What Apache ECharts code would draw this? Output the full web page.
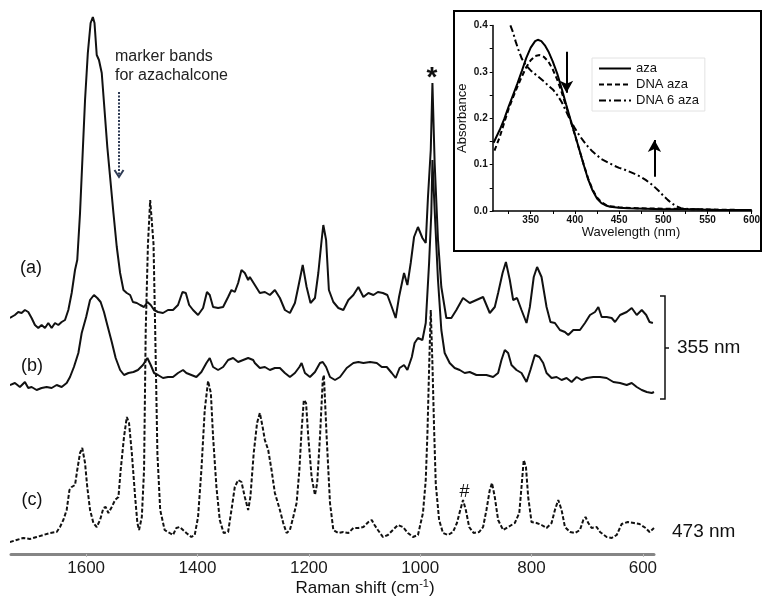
<!DOCTYPE html>
<html>
<head>
<meta charset="utf-8">
<script src="https://cdn.jsdelivr.net/npm/echarts@6/dist/echarts.min.js"></script>
<style>
  html, body { margin: 0; padding: 0; background: #fff; }
  #chart { width: 762px; height: 597px; }
</style>
</head>
<body>
<div id="chart"></div>
<script>
// Raman spectra: [Raman shift (cm-1), intensity (offset, arb. units)]
const traceA = [
  [1737,236],[1728,239],[1722,242],[1716,241],[1710,244],[1704,242],[1698,236],[1692,229],[1686,226],[1680,229],
  [1674,226],[1668,231],[1662,226],[1656,231],[1650,229],[1644,232],[1638,234],[1632,244],[1626,261],[1620,284],
  [1616,294],[1611,341],[1606,404],[1602,454],[1597,501],[1592,531],[1588,537],[1585,531],[1581,499],[1577,494],
  [1572,481],[1567,444],[1562,407],[1557,377],[1551,341],[1545,307],[1539,281],[1533,264],[1527,261],[1521,259],
  [1516,252],[1509,251],[1503,249],[1496,247],[1490,252],[1484,249],[1478,244],[1471,242],[1462,241],[1453,244],
  [1444,244],[1435,249],[1427,262],[1421,261],[1415,249],[1408,244],[1399,239],[1390,246],[1383,262],[1378,259],
  [1372,247],[1363,246],[1354,247],[1345,257],[1339,264],[1333,262],[1327,271],[1321,284],[1315,281],[1309,274],
  [1306,277],[1297,269],[1288,261],[1279,262],[1270,259],[1261,264],[1252,256],[1243,244],[1234,241],[1225,251],
  [1219,267],[1211,289],[1204,267],[1197,251],[1189,256],[1183,281],[1177,314],[1174,329],[1169,314],[1164,264],
  [1156,252],[1147,246],[1138,244],[1129,254],[1120,259],[1111,267],[1102,257],[1093,261],[1084,259],[1076,262],
  [1067,261],[1059,259],[1051,247],[1044,236],[1038,257],[1029,281],[1023,269],[1017,291],[1011,317],[1004,327],
  [996,316],[990,311],[986,357],[981,404],[978,471],[974,391],[968,314],[962,267],[953,236],[944,236],
  [935,244],[923,256],[911,251],[899,254],[887,257],[875,241],[866,247],[860,261],[852,281],[846,292],
  [839,274],[833,254],[826,256],[818,244],[809,231],[803,247],[796,277],[790,287],[782,277],[773,247],
  [766,232],[758,231],[749,224],[740,222],[734,219],[725,224],[713,224],[704,231],[695,239],[686,242],
  [680,247],[674,237],[665,237],[656,236],[650,232],[641,239],[629,242],[620,246],[611,239],[602,244],
  [594,239],[588,232],[582,231]
];
const traceB = [
  [1737,169],[1728,171],[1719,167],[1710,172],[1704,166],[1698,167],[1689,164],[1680,166],[1671,167],[1662,166],
  [1653,169],[1644,167],[1635,171],[1629,177],[1622,187],[1614,201],[1608,221],[1600,237],[1593,254],[1586,259],
  [1580,256],[1574,252],[1568,242],[1562,229],[1554,212],[1547,196],[1539,184],[1532,179],[1524,181],[1515,182],
  [1507,184],[1498,189],[1490,196],[1484,189],[1478,181],[1471,179],[1462,176],[1453,177],[1444,177],[1435,181],
  [1426,184],[1420,181],[1411,179],[1402,177],[1393,182],[1384,191],[1378,196],[1372,187],[1363,184],[1354,187],
  [1345,194],[1336,196],[1327,192],[1318,194],[1309,196],[1300,194],[1297,191],[1288,186],[1279,187],[1270,184],
  [1261,186],[1252,186],[1243,181],[1234,177],[1225,181],[1217,187],[1213,191],[1207,181],[1198,177],[1189,182],
  [1180,191],[1175,192],[1169,187],[1162,177],[1153,174],[1144,177],[1132,186],[1120,191],[1111,192],[1102,191],
  [1090,192],[1078,191],[1069,187],[1060,187],[1051,181],[1044,176],[1037,186],[1029,189],[1023,184],[1015,197],
  [1010,211],[1004,216],[996,214],[990,231],[984,291],[980,341],[978,394],[974,344],[968,274],[962,224],
  [956,201],[947,191],[938,186],[929,184],[920,181],[911,182],[899,179],[887,179],[881,179],[869,177],
  [860,181],[854,194],[848,204],[842,201],[836,189],[827,184],[818,181],[809,172],[802,184],[794,199],
  [786,197],[779,191],[773,181],[764,176],[755,177],[746,174],[737,176],[728,172],[719,177],[710,174],
  [701,176],[689,177],[677,177],[665,176],[653,172],[641,171],[629,169],[620,171],[611,167],[602,164],
  [593,162],[584,161],[580,162]
];
const traceC = [
  [1737,12],[1725,14],[1713,16],[1701,15],[1689,17],[1677,19],[1665,21],[1653,22],[1647,27],[1641,34],
  [1635,44],[1630,64],[1626,67],[1620,69],[1616,84],[1611,101],[1607,106],[1602,91],[1598,67],[1593,44],
  [1587,31],[1581,27],[1575,34],[1569,46],[1565,47],[1560,41],[1554,47],[1548,54],[1542,57],[1538,84],
  [1532,117],[1527,137],[1523,131],[1518,101],[1512,57],[1508,31],[1505,24],[1500,37],[1496,84],[1493,224],
  [1489,310],[1485,354],[1482,356],[1479,310],[1476,224],[1472,100],[1467,44],[1459,24],[1450,21],[1444,19],
  [1438,26],[1432,27],[1426,24],[1420,21],[1411,17],[1405,19],[1399,37],[1393,84],[1387,144],[1381,173],
  [1376,161],[1372,117],[1366,67],[1360,34],[1353,21],[1345,22],[1339,44],[1333,67],[1327,74],[1321,72],
  [1315,57],[1309,44],[1305,57],[1299,101],[1293,131],[1288,141],[1283,127],[1279,114],[1273,104],[1267,84],
  [1261,61],[1252,44],[1246,31],[1240,21],[1234,24],[1228,37],[1222,51],[1217,84],[1213,124],[1209,154],
  [1205,151],[1201,117],[1195,77],[1189,59],[1185,71],[1180,117],[1175,174],[1173,179],[1168,117],[1162,51],
  [1156,24],[1147,21],[1138,22],[1129,21],[1120,26],[1111,26],[1102,27],[1093,32],[1087,34],[1082,29],
  [1076,24],[1067,17],[1058,19],[1049,24],[1040,29],[1031,27],[1022,21],[1013,17],[1004,19],[995,41],
  [990,74],[987,120],[984,185],[981,244],[978,190],[975,125],[972,70],[966,34],[959,21],[950,19],
  [941,22],[934,31],[928,44],[923,54],[918,44],[912,27],[904,21],[894,22],[887,27],[881,44],
  [875,64],[871,71],[866,57],[860,34],[851,24],[842,27],[830,31],[822,41],[818,67],[814,94],
  [810,87],[806,57],[800,32],[791,31],[782,29],[773,26],[764,31],[758,44],[752,54],[746,44],
  [740,27],[731,22],[722,21],[713,24],[707,34],[703,37],[698,31],[692,26],[683,27],[677,22],
  [665,17],[656,16],[647,19],[638,30],[627,32],[616,31],[606,30],[595,26],[588,22],[580,26]
];
const ramanTicks = [600, 800, 1000, 1200, 1400, 1600];

// inset: UV-vis absorbance, [wavelength (nm), absorbance]
const aza = [
  [308,0.147],[315,0.175],[320,0.198],[325,0.225],[330,0.25],[335,0.275],[340,0.302],[345,0.33],[350,0.352],
  [355,0.366],[358,0.369],[362,0.366],[366,0.357],[370,0.344],[375,0.322],[380,0.296],[385,0.264],[390,0.23],
  [395,0.197],[400,0.165],[405,0.132],[410,0.099],[415,0.068],[420,0.044],[425,0.027],[430,0.017],[435,0.012],
  [440,0.009],[450,0.007],[460,0.006],[480,0.005],[500,0.004],[520,0.004],[540,0.003],[560,0.002],[580,0.002],[600,0.002]
];
const dnaAza = [
  [309,0.13],[315,0.16],[320,0.19],[325,0.22],[330,0.245],[335,0.268],[340,0.29],[345,0.31],[350,0.325],
  [355,0.334],[360,0.336],[365,0.332],[370,0.322],[375,0.305],[380,0.283],[385,0.256],[390,0.226],[395,0.195],
  [400,0.164],[405,0.132],[410,0.1],[415,0.07],[420,0.046],[425,0.029],[430,0.019],[435,0.013],[440,0.01],
  [450,0.008],[470,0.006],[500,0.005],[530,0.004],[560,0.003],[600,0.002]
];
const dna6Aza = [
  [327,0.40],[330,0.385],[333,0.365],[336,0.348],[340,0.328],[345,0.313],[350,0.303],[355,0.295],[360,0.287],
  [365,0.279],[370,0.27],[375,0.262],[380,0.25],[385,0.235],[390,0.215],[395,0.195],[400,0.178],[405,0.163],
  [410,0.15],[415,0.138],[420,0.128],[425,0.12],[430,0.112],[435,0.107],[440,0.102],[445,0.097],[450,0.093],
  [455,0.09],[460,0.086],[465,0.082],[470,0.078],[475,0.073],[480,0.067],[485,0.06],[490,0.052],[495,0.043],
  [500,0.033],[505,0.024],[510,0.016],[515,0.01],[520,0.006],[530,0.004],[550,0.003],[575,0.002],[600,0.002]
];
const wlLabels = [350, 400, 450, 500, 550, 600];
const wlTicks = [325, 350, 375, 400, 425, 450, 475, 500, 525, 550, 575, 600];
const absLabels = [0, 0.1, 0.2, 0.3, 0.4];
const absTicks = [0, 0.05, 0.1, 0.15, 0.2, 0.25, 0.3, 0.35, 0.4];

const font = '"Liberation Sans", Arial, sans-serif';
const chart = echarts.init(document.getElementById('chart'));

// little helper for free text
function label(text, x, y, size, opts) {
  opts = opts || {};
  return {
    type: 'text', x: x, y: y, z: 10,
    style: {
      text: text,
      font: (opts.bold ? 'bold ' : '') + size + 'px ' + font,
      fill: opts.color || '#111',
      textAlign: opts.align || 'center', align: opts.align || 'center',
      textVerticalAlign: 'middle', verticalAlign: 'middle',
      rich: opts.rich
    }
  };
}

const option = {
  animation: false,
  backgroundColor: '#fff',
  grid: [
    { left: 11, right: 108, top: 0, bottom: 43, outerBoundsMode: 'none' },
    { left: 492.7, right: 10.3, top: 25.4, bottom: 386, outerBoundsMode: 'none' }
  ],
  xAxis: [
    {
      type: 'value', gridIndex: 0, min: 580, max: 1735, inverse: true,
      axisLine: { show: true, lineStyle: { color: '#858585', width: 3 } },
      axisTick: { show: true, customValues: ramanTicks, length: 3, lineStyle: { color: '#bbb' } },
      axisLabel: {
        customValues: ramanTicks, margin: 6, fontSize: 17, color: '#1a1a1a', fontFamily: font,
        formatter: v => String(v)
      },
      splitLine: { show: false }
    },
    {
      type: 'value', gridIndex: 1, min: 307, max: 600,
      axisLine: { show: true, lineStyle: { color: '#000', width: 1.5 } },
      axisTick: { show: true, customValues: wlTicks, length: 3, lineStyle: { color: '#000' } },
      axisLabel: {
        customValues: wlLabels, margin: 4, fontSize: 10, fontWeight: 'bold', color: '#111', fontFamily: font,
        formatter: v => String(v)
      },
      splitLine: { show: false }
    }
  ],
  yAxis: [
    { type: 'value', gridIndex: 0, min: 0, max: 554, show: false },
    {
      type: 'value', gridIndex: 1, min: 0, max: 0.4,
      axisLine: { show: true, lineStyle: { color: '#000', width: 1.5 } },
      axisTick: { show: true, customValues: absTicks, length: 3, lineStyle: { color: '#000' } },
      axisLabel: {
        customValues: absLabels, margin: 5, fontSize: 10, fontWeight: 'bold', color: '#111', fontFamily: font,
        formatter: v => v.toFixed(1)
      },
      splitLine: { show: false },
      name: 'Absorbance', nameLocation: 'middle', nameGap: 24,
      nameTextStyle: { fontSize: 13, color: '#111', fontFamily: font }
    }
  ],
  legend: {
    data: ['aza', 'DNA aza', 'DNA 6 aza'],
    orient: 'vertical', left: 592, top: 58,
    padding: [4, 6, 4, 6], itemGap: 3, itemWidth: 32, itemHeight: 12,
    selectedMode: false,
    itemStyle: { opacity: 0 },
    backgroundColor: '#fff', borderColor: '#e2e2e2', borderWidth: 1,
    textStyle: { fontSize: 13, color: '#111', fontFamily: font }
  },
  series: [
    {
      name: '(a)', type: 'line', xAxisIndex: 0, yAxisIndex: 0, data: traceA,
      symbol: 'none', silent: true, lineStyle: { color: '#111', width: 2 }
    },
    {
      name: '(b)', type: 'line', xAxisIndex: 0, yAxisIndex: 0, data: traceB,
      symbol: 'none', silent: true, lineStyle: { color: '#111', width: 2 }
    },
    {
      name: '(c)', type: 'line', xAxisIndex: 0, yAxisIndex: 0, data: traceC,
      symbol: 'none', silent: true, lineStyle: { color: '#111', width: 2, type: [4, 2] }
    },
    {
      name: 'aza', type: 'line', xAxisIndex: 1, yAxisIndex: 1, data: aza,
      symbol: 'none', silent: true, color: '#000', lineStyle: { color: '#000', width: 2 },
      markLine: {
        silent: true, symbol: ['none', 'arrow'], symbolSize: [10, 12],
        label: { show: false }, emphasis: { disabled: true },
        lineStyle: { color: '#000', width: 2, type: 'solid' },
        data: [
          [{ coord: [390.5, 0.343] }, { coord: [390.5, 0.255] }],
          [{ coord: [490, 0.074] }, { coord: [490, 0.153] }]
        ]
      }
    },
    {
      name: 'DNA aza', type: 'line', xAxisIndex: 1, yAxisIndex: 1, data: dnaAza,
      symbol: 'none', silent: true, color: '#000', lineStyle: { color: '#000', width: 2, type: [5, 3] }
    },
    {
      name: 'DNA 6 aza', type: 'line', xAxisIndex: 1, yAxisIndex: 1, data: dna6Aza,
      symbol: 'none', silent: true, color: '#000', lineStyle: { color: '#000', width: 2, type: [7, 3, 2, 3] }
    }
  ],
  graphic: [
    // inset frame
    { type: 'rect', z: -1, shape: { x: 454, y: 11, width: 307, height: 240 },
      style: { fill: '#fff', stroke: '#000', lineWidth: 2 } },
    label('Wavelength (nm)', 631, 232, 13),
    // trace labels
    label('(a)', 31, 268, 18),
    label('(b)', 32, 366, 18),
    label('(c)', 32, 500, 18),
    label('marker bands', 115, 57, 16, { align: 'left', color: '#222' }),
    label('for azachalcone', 115, 76, 16, { align: 'left', color: '#222' }),
    label('*', 432, 78, 28, { bold: true }),
    label('#', 464.5, 492, 18),
    label('355 nm', 677, 348, 19, { align: 'left' }),
    label('473 nm', 672, 532, 19, { align: 'left' }),
    label('{a|Raman shift (cm}{s|-1}{a|)}', 365, 588, 17, {
      rich: {
        a: { fontSize: 17, lineHeight: 20, fontFamily: font, fill: '#111' },
        s: { fontSize: 11, lineHeight: 10, verticalAlign: 'top', fontFamily: font, fill: '#111' }
      }
    }),
    // marker arrow (dotted)
    { type: 'line', z: 10, shape: { x1: 119, y1: 92, x2: 119, y2: 176 },
      style: { stroke: '#2e3b55', lineWidth: 2, lineDash: [2, 1.5] } },
    { type: 'polyline', z: 10, shape: { points: [[114.5, 170], [119, 177], [123.5, 170]] },
      style: { stroke: '#2e3b55', lineWidth: 2, fill: null } },
    // 355 nm bracket
    { type: 'polyline', z: 10, shape: { points: [[660, 296], [665, 296], [665, 399], [660, 399]] },
      style: { stroke: '#111', lineWidth: 1.5, fill: null } },
    { type: 'line', z: 10, shape: { x1: 665, y1: 348, x2: 669, y2: 348 },
      style: { stroke: '#111', lineWidth: 1.5 } }
  ]
};

chart.setOption(option);
</script>
</body>
</html>
